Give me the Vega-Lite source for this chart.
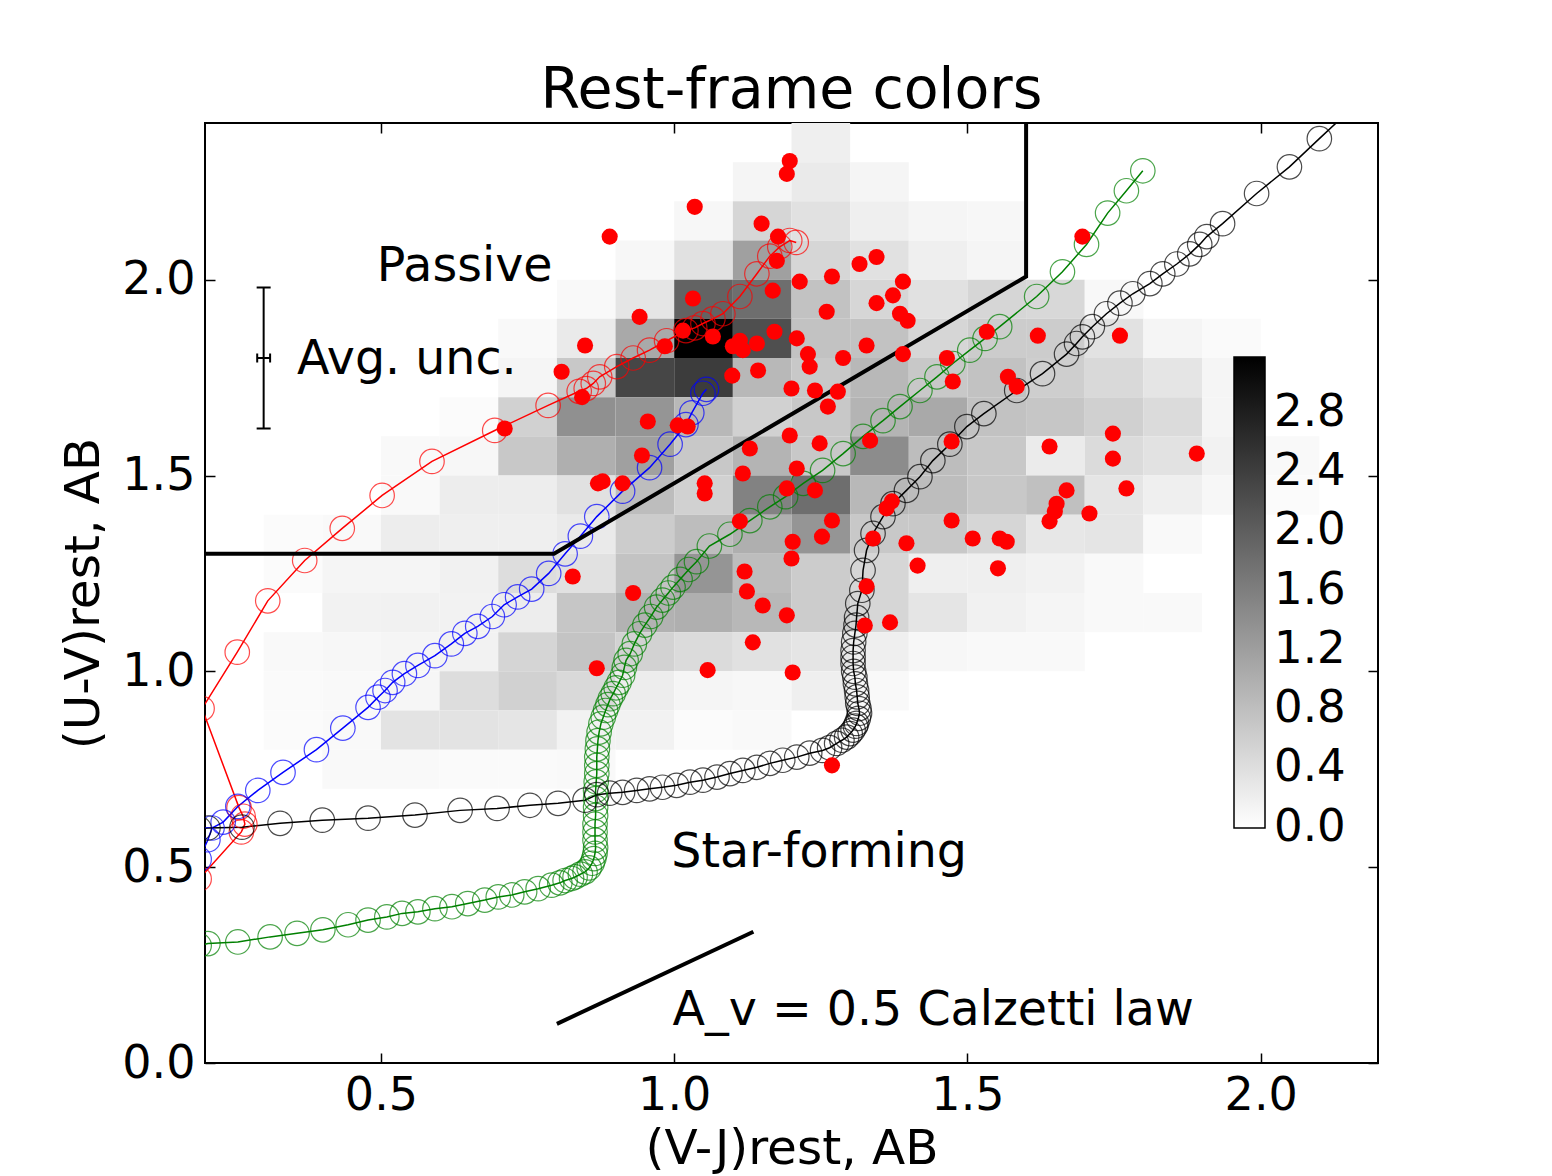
{
  "$schema": "https://vega.github.io/schema/vega-lite/v6.json",
  "width": 1173,
  "height": 940,
  "autosize": {"type": "none"},
  "padding": {"left": 205, "top": 123, "right": 174, "bottom": 113},
  "background": "white",
  "title": {"text": "Rest-frame colors", "fontSize": 57, "font": "DejaVu Sans", "fontWeight": "normal", "color": "black", "offset": -43, "baseline": "alphabetic"},
  "config": {
    "view": {"stroke": "black", "strokeWidth": 2},
    "font": "DejaVu Sans",
    "axis": {"labelFont": "DejaVu Sans", "labelFontSize": 46, "titleFont": "DejaVu Sans", "titleFontSize": 48.5, "titleFontWeight": "normal", "grid": false, "domain": false, "tickColor": "black", "tickSize": -10, "tickWidth": 1.5, "labelColor": "black", "titleColor": "black", "labelPadding": 20, "labelFlush": false, "labelOverlap": false}
  },
  "datasets": {
    "heat": [
      {"vj":1.2,"vj2":1.3,"uv":2.3,"uv2":2.4,"n":0.19},
      {"vj":1.1,"vj2":1.2,"uv":2.2,"uv2":2.3,"n":0.12},{"vj":1.2,"vj2":1.3,"uv":2.2,"uv2":2.3,"n":0.25},{"vj":1.3,"vj2":1.4,"uv":2.2,"uv2":2.3,"n":0.12},
      {"vj":1.0,"vj2":1.1,"uv":2.1,"uv2":2.2,"n":0.09},{"vj":1.1,"vj2":1.2,"uv":2.1,"uv2":2.2,"n":0.50},{"vj":1.2,"vj2":1.3,"uv":2.1,"uv2":2.2,"n":0.37},{"vj":1.3,"vj2":1.4,"uv":2.1,"uv2":2.2,"n":0.19},{"vj":1.4,"vj2":1.5,"uv":2.1,"uv2":2.2,"n":0.12},{"vj":1.5,"vj2":1.6,"uv":2.1,"uv2":2.2,"n":0.09},
      {"vj":0.9,"vj2":1.0,"uv":2.0,"uv2":2.1,"n":0.09},{"vj":1.0,"vj2":1.1,"uv":2.0,"uv2":2.1,"n":0.37},{"vj":1.1,"vj2":1.2,"uv":2.0,"uv2":2.1,"n":1.18},{"vj":1.2,"vj2":1.3,"uv":2.0,"uv2":2.1,"n":0.50},{"vj":1.3,"vj2":1.4,"uv":2.0,"uv2":2.1,"n":0.37},{"vj":1.4,"vj2":1.5,"uv":2.0,"uv2":2.1,"n":0.19},{"vj":1.5,"vj2":1.6,"uv":2.0,"uv2":2.1,"n":0.12},
      {"vj":0.8,"vj2":0.9,"uv":1.9,"uv2":2.0,"n":0.06},{"vj":0.9,"vj2":1.0,"uv":1.9,"uv2":2.0,"n":0.31},{"vj":1.0,"vj2":1.1,"uv":1.9,"uv2":2.0,"n":1.93},{"vj":1.1,"vj2":1.2,"uv":1.9,"uv2":2.0,"n":1.80},{"vj":1.2,"vj2":1.3,"uv":1.9,"uv2":2.0,"n":0.75},{"vj":1.3,"vj2":1.4,"uv":1.9,"uv2":2.0,"n":0.50},{"vj":1.4,"vj2":1.5,"uv":1.9,"uv2":2.0,"n":0.37},{"vj":1.5,"vj2":1.6,"uv":1.9,"uv2":2.0,"n":0.50},{"vj":1.6,"vj2":1.7,"uv":1.9,"uv2":2.0,"n":0.48},{"vj":1.7,"vj2":1.8,"uv":1.9,"uv2":2.0,"n":0.08},
      {"vj":0.7,"vj2":0.8,"uv":1.8,"uv2":1.9,"n":0.06},{"vj":0.8,"vj2":0.9,"uv":1.8,"uv2":1.9,"n":0.25},{"vj":0.9,"vj2":1.0,"uv":1.8,"uv2":1.9,"n":1.06},{"vj":1.0,"vj2":1.1,"uv":1.8,"uv2":1.9,"n":3.17},{"vj":1.1,"vj2":1.2,"uv":1.8,"uv2":1.9,"n":2.18},{"vj":1.2,"vj2":1.3,"uv":1.8,"uv2":1.9,"n":0.75},{"vj":1.3,"vj2":1.4,"uv":1.8,"uv2":1.9,"n":0.75},{"vj":1.4,"vj2":1.5,"uv":1.8,"uv2":1.9,"n":0.50},{"vj":1.5,"vj2":1.6,"uv":1.8,"uv2":1.9,"n":0.62},{"vj":1.6,"vj2":1.7,"uv":1.8,"uv2":1.9,"n":0.62},{"vj":1.7,"vj2":1.8,"uv":1.8,"uv2":1.9,"n":0.35},{"vj":1.8,"vj2":1.9,"uv":1.8,"uv2":1.9,"n":0.11},{"vj":1.9,"vj2":2.0,"uv":1.8,"uv2":1.9,"n":0.05},
      {"vj":0.7,"vj2":0.8,"uv":1.7,"uv2":1.8,"n":0.12},{"vj":0.8,"vj2":0.9,"uv":1.7,"uv2":1.8,"n":0.68},{"vj":0.9,"vj2":1.0,"uv":1.7,"uv2":1.8,"n":2.30},{"vj":1.0,"vj2":1.1,"uv":1.7,"uv2":1.8,"n":2.42},{"vj":1.1,"vj2":1.2,"uv":1.7,"uv2":1.8,"n":0.87},{"vj":1.2,"vj2":1.3,"uv":1.7,"uv2":1.8,"n":0.68},{"vj":1.3,"vj2":1.4,"uv":1.7,"uv2":1.8,"n":0.87},{"vj":1.4,"vj2":1.5,"uv":1.7,"uv2":1.8,"n":0.68},{"vj":1.5,"vj2":1.6,"uv":1.7,"uv2":1.8,"n":0.75},{"vj":1.6,"vj2":1.7,"uv":1.7,"uv2":1.8,"n":0.60},{"vj":1.7,"vj2":1.8,"uv":1.7,"uv2":1.8,"n":0.46},{"vj":1.8,"vj2":1.9,"uv":1.7,"uv2":1.8,"n":0.31},{"vj":1.9,"vj2":2.0,"uv":1.7,"uv2":1.8,"n":0.12},
      {"vj":0.6,"vj2":0.7,"uv":1.6,"uv2":1.7,"n":0.04},{"vj":0.7,"vj2":0.8,"uv":1.6,"uv2":1.7,"n":0.56},{"vj":0.8,"vj2":0.9,"uv":1.6,"uv2":1.7,"n":1.37},{"vj":0.9,"vj2":1.0,"uv":1.6,"uv2":1.7,"n":1.31},{"vj":1.0,"vj2":1.1,"uv":1.6,"uv2":1.7,"n":0.87},{"vj":1.1,"vj2":1.2,"uv":1.6,"uv2":1.7,"n":0.56},{"vj":1.2,"vj2":1.3,"uv":1.6,"uv2":1.7,"n":0.68},{"vj":1.3,"vj2":1.4,"uv":1.6,"uv2":1.7,"n":0.93},{"vj":1.4,"vj2":1.5,"uv":1.6,"uv2":1.7,"n":1.06},{"vj":1.5,"vj2":1.6,"uv":1.6,"uv2":1.7,"n":0.75},{"vj":1.6,"vj2":1.7,"uv":1.6,"uv2":1.7,"n":0.70},{"vj":1.7,"vj2":1.8,"uv":1.6,"uv2":1.7,"n":0.58},{"vj":1.8,"vj2":1.9,"uv":1.6,"uv2":1.7,"n":0.44},{"vj":1.9,"vj2":2.0,"uv":1.6,"uv2":1.7,"n":0.12},
      {"vj":0.5,"vj2":0.6,"uv":1.5,"uv2":1.6,"n":0.06},{"vj":0.6,"vj2":0.7,"uv":1.5,"uv2":1.6,"n":0.09},{"vj":0.7,"vj2":0.8,"uv":1.5,"uv2":1.6,"n":0.68},{"vj":0.8,"vj2":0.9,"uv":1.5,"uv2":1.6,"n":0.99},{"vj":0.9,"vj2":1.0,"uv":1.5,"uv2":1.6,"n":1.18},{"vj":1.0,"vj2":1.1,"uv":1.5,"uv2":1.6,"n":0.68},{"vj":1.1,"vj2":1.2,"uv":1.5,"uv2":1.6,"n":0.93},{"vj":1.2,"vj2":1.3,"uv":1.5,"uv2":1.6,"n":0.68},{"vj":1.3,"vj2":1.4,"uv":1.5,"uv2":1.6,"n":1.43},{"vj":1.4,"vj2":1.5,"uv":1.5,"uv2":1.6,"n":0.81},{"vj":1.5,"vj2":1.6,"uv":1.5,"uv2":1.6,"n":0.68},{"vj":1.6,"vj2":1.7,"uv":1.5,"uv2":1.6,"n":0.24},{"vj":1.7,"vj2":1.8,"uv":1.5,"uv2":1.6,"n":0.44},{"vj":1.8,"vj2":1.9,"uv":1.5,"uv2":1.6,"n":0.35},{"vj":1.9,"vj2":2.0,"uv":1.5,"uv2":1.6,"n":0.15},{"vj":2.0,"vj2":2.1,"uv":1.5,"uv2":1.6,"n":0.06},
      {"vj":0.5,"vj2":0.6,"uv":1.4,"uv2":1.5,"n":0.06},{"vj":0.6,"vj2":0.7,"uv":1.4,"uv2":1.5,"n":0.21},{"vj":0.7,"vj2":0.8,"uv":1.4,"uv2":1.5,"n":0.21},{"vj":0.8,"vj2":0.9,"uv":1.4,"uv2":1.5,"n":0.37},{"vj":0.9,"vj2":1.0,"uv":1.4,"uv2":1.5,"n":0.81},{"vj":1.0,"vj2":1.1,"uv":1.4,"uv2":1.5,"n":0.56},{"vj":1.1,"vj2":1.2,"uv":1.4,"uv2":1.5,"n":1.55},{"vj":1.2,"vj2":1.3,"uv":1.4,"uv2":1.5,"n":1.80},{"vj":1.3,"vj2":1.4,"uv":1.4,"uv2":1.5,"n":0.87},{"vj":1.4,"vj2":1.5,"uv":1.4,"uv2":1.5,"n":0.81},{"vj":1.5,"vj2":1.6,"uv":1.4,"uv2":1.5,"n":0.68},{"vj":1.6,"vj2":1.7,"uv":1.4,"uv2":1.5,"n":0.78},{"vj":1.7,"vj2":1.8,"uv":1.4,"uv2":1.5,"n":0.31},{"vj":1.8,"vj2":1.9,"uv":1.4,"uv2":1.5,"n":0.19},{"vj":1.9,"vj2":2.0,"uv":1.4,"uv2":1.5,"n":0.09},{"vj":2.0,"vj2":2.1,"uv":1.4,"uv2":1.5,"n":0.04},
      {"vj":0.3,"vj2":0.4,"uv":1.3,"uv2":1.4,"n":0.04},{"vj":0.4,"vj2":0.5,"uv":1.3,"uv2":1.4,"n":0.06},{"vj":0.5,"vj2":0.6,"uv":1.3,"uv2":1.4,"n":0.21},{"vj":0.6,"vj2":0.7,"uv":1.3,"uv2":1.4,"n":0.19},{"vj":0.7,"vj2":0.8,"uv":1.3,"uv2":1.4,"n":0.19},{"vj":0.8,"vj2":0.9,"uv":1.3,"uv2":1.4,"n":0.25},{"vj":0.9,"vj2":1.0,"uv":1.3,"uv2":1.4,"n":0.62},{"vj":1.0,"vj2":1.1,"uv":1.3,"uv2":1.4,"n":0.81},{"vj":1.1,"vj2":1.2,"uv":1.3,"uv2":1.4,"n":0.99},{"vj":1.2,"vj2":1.3,"uv":1.3,"uv2":1.4,"n":1.31},{"vj":1.3,"vj2":1.4,"uv":1.3,"uv2":1.4,"n":0.68},{"vj":1.4,"vj2":1.5,"uv":1.3,"uv2":1.4,"n":0.68},{"vj":1.5,"vj2":1.6,"uv":1.3,"uv2":1.4,"n":0.50},{"vj":1.6,"vj2":1.7,"uv":1.3,"uv2":1.4,"n":0.29},{"vj":1.7,"vj2":1.8,"uv":1.3,"uv2":1.4,"n":0.31},{"vj":1.8,"vj2":1.9,"uv":1.3,"uv2":1.4,"n":0.07},
      {"vj":0.3,"vj2":0.4,"uv":1.2,"uv2":1.3,"n":0.04},{"vj":0.4,"vj2":0.5,"uv":1.2,"uv2":1.3,"n":0.12},{"vj":0.5,"vj2":0.6,"uv":1.2,"uv2":1.3,"n":0.11},{"vj":0.6,"vj2":0.7,"uv":1.2,"uv2":1.3,"n":0.17},{"vj":0.7,"vj2":0.8,"uv":1.2,"uv2":1.3,"n":0.41},{"vj":0.8,"vj2":0.9,"uv":1.2,"uv2":1.3,"n":0.36},{"vj":0.9,"vj2":1.0,"uv":1.2,"uv2":1.3,"n":0.74},{"vj":1.0,"vj2":1.1,"uv":1.2,"uv2":1.3,"n":1.31},{"vj":1.1,"vj2":1.2,"uv":1.2,"uv2":1.3,"n":0.81},{"vj":1.2,"vj2":1.3,"uv":1.2,"uv2":1.3,"n":0.62},{"vj":1.3,"vj2":1.4,"uv":1.2,"uv2":1.3,"n":0.50},{"vj":1.4,"vj2":1.5,"uv":1.2,"uv2":1.3,"n":0.19},{"vj":1.5,"vj2":1.6,"uv":1.2,"uv2":1.3,"n":0.19},{"vj":1.6,"vj2":1.7,"uv":1.2,"uv2":1.3,"n":0.15},{"vj":1.7,"vj2":1.8,"uv":1.2,"uv2":1.3,"n":0.06},
      {"vj":0.4,"vj2":0.5,"uv":1.1,"uv2":1.2,"n":0.15},{"vj":0.5,"vj2":0.6,"uv":1.1,"uv2":1.2,"n":0.16},{"vj":0.6,"vj2":0.7,"uv":1.1,"uv2":1.2,"n":0.15},{"vj":0.7,"vj2":0.8,"uv":1.1,"uv2":1.2,"n":0.22},{"vj":0.8,"vj2":0.9,"uv":1.1,"uv2":1.2,"n":0.70},{"vj":0.9,"vj2":1.0,"uv":1.1,"uv2":1.2,"n":0.95},{"vj":1.0,"vj2":1.1,"uv":1.1,"uv2":1.2,"n":0.99},{"vj":1.1,"vj2":1.2,"uv":1.1,"uv2":1.2,"n":0.87},{"vj":1.2,"vj2":1.3,"uv":1.1,"uv2":1.2,"n":0.62},{"vj":1.3,"vj2":1.4,"uv":1.1,"uv2":1.2,"n":0.50},{"vj":1.4,"vj2":1.5,"uv":1.1,"uv2":1.2,"n":0.31},{"vj":1.5,"vj2":1.6,"uv":1.1,"uv2":1.2,"n":0.16},{"vj":1.6,"vj2":1.7,"uv":1.1,"uv2":1.2,"n":0.12},{"vj":1.7,"vj2":1.8,"uv":1.1,"uv2":1.2,"n":0.06},{"vj":1.8,"vj2":1.9,"uv":1.1,"uv2":1.2,"n":0.06},
      {"vj":0.3,"vj2":0.4,"uv":1.0,"uv2":1.1,"n":0.06},{"vj":0.4,"vj2":0.5,"uv":1.0,"uv2":1.1,"n":0.09},{"vj":0.5,"vj2":0.6,"uv":1.0,"uv2":1.1,"n":0.12},{"vj":0.6,"vj2":0.7,"uv":1.0,"uv2":1.1,"n":0.15},{"vj":0.7,"vj2":0.8,"uv":1.0,"uv2":1.1,"n":0.52},{"vj":0.8,"vj2":0.9,"uv":1.0,"uv2":1.1,"n":0.72},{"vj":0.9,"vj2":1.0,"uv":1.0,"uv2":1.1,"n":0.55},{"vj":1.0,"vj2":1.1,"uv":1.0,"uv2":1.1,"n":0.44},{"vj":1.1,"vj2":1.2,"uv":1.0,"uv2":1.1,"n":0.37},{"vj":1.2,"vj2":1.3,"uv":1.0,"uv2":1.1,"n":0.31},{"vj":1.3,"vj2":1.4,"uv":1.0,"uv2":1.1,"n":0.19},{"vj":1.4,"vj2":1.5,"uv":1.0,"uv2":1.1,"n":0.09},{"vj":1.5,"vj2":1.6,"uv":1.0,"uv2":1.1,"n":0.06},{"vj":1.6,"vj2":1.7,"uv":1.0,"uv2":1.1,"n":0.06},
      {"vj":0.3,"vj2":0.4,"uv":0.9,"uv2":1.0,"n":0.05},{"vj":0.4,"vj2":0.5,"uv":0.9,"uv2":1.0,"n":0.07},{"vj":0.5,"vj2":0.6,"uv":0.9,"uv2":1.0,"n":0.10},{"vj":0.6,"vj2":0.7,"uv":0.9,"uv2":1.0,"n":0.42},{"vj":0.7,"vj2":0.8,"uv":0.9,"uv2":1.0,"n":0.56},{"vj":0.8,"vj2":0.9,"uv":0.9,"uv2":1.0,"n":0.46},{"vj":0.9,"vj2":1.0,"uv":0.9,"uv2":1.0,"n":0.22},{"vj":1.0,"vj2":1.1,"uv":0.9,"uv2":1.0,"n":0.12},{"vj":1.1,"vj2":1.2,"uv":0.9,"uv2":1.0,"n":0.09},{"vj":1.2,"vj2":1.3,"uv":0.9,"uv2":1.0,"n":0.19},{"vj":1.3,"vj2":1.4,"uv":0.9,"uv2":1.0,"n":0.06},
      {"vj":0.3,"vj2":0.4,"uv":0.8,"uv2":0.9,"n":0.04},{"vj":0.4,"vj2":0.5,"uv":0.8,"uv2":0.9,"n":0.06},{"vj":0.5,"vj2":0.6,"uv":0.8,"uv2":0.9,"n":0.34},{"vj":0.6,"vj2":0.7,"uv":0.8,"uv2":0.9,"n":0.34},{"vj":0.7,"vj2":0.8,"uv":0.8,"uv2":0.9,"n":0.31},{"vj":0.8,"vj2":0.9,"uv":0.8,"uv2":0.9,"n":0.15},{"vj":0.9,"vj2":1.0,"uv":0.8,"uv2":0.9,"n":0.15},{"vj":1.0,"vj2":1.1,"uv":0.8,"uv2":0.9,"n":0.04},{"vj":1.1,"vj2":1.2,"uv":0.8,"uv2":0.9,"n":0.06},
      {"vj":0.4,"vj2":0.5,"uv":0.7,"uv2":0.8,"n":0.07},{"vj":0.5,"vj2":0.6,"uv":0.7,"uv2":0.8,"n":0.07},{"vj":0.6,"vj2":0.7,"uv":0.7,"uv2":0.8,"n":0.05},{"vj":0.7,"vj2":0.8,"uv":0.7,"uv2":0.8,"n":0.05},{"vj":0.8,"vj2":0.9,"uv":0.7,"uv2":0.8,"n":0.06}
    ],
    "tracks": [
      {"track":"red","i":0,"vj":0.19,"uv":0.47},{"track":"red","i":1,"vj":0.262,"uv":0.59},{"track":"red","i":2,"vj":0.268,"uv":0.61},{"track":"red","i":3,"vj":0.265,"uv":0.63},{"track":"red","i":4,"vj":0.258,"uv":0.652},{"track":"red","i":5,"vj":0.195,"uv":0.905},{"track":"red","i":6,"vj":0.255,"uv":1.049},{"track":"red","i":7,"vj":0.307,"uv":1.18},{"track":"red","i":8,"vj":0.37,"uv":1.283},{"track":"red","i":9,"vj":0.434,"uv":1.365},{"track":"red","i":10,"vj":0.502,"uv":1.449},{"track":"red","i":11,"vj":0.587,"uv":1.536},{"track":"red","i":12,"vj":0.694,"uv":1.615},{"track":"red","i":13,"vj":0.785,"uv":1.679},{"track":"red","i":14,"vj":0.838,"uv":1.715},{"track":"red","i":15,"vj":0.85,"uv":1.722},{"track":"red","i":16,"vj":0.862,"uv":1.735},{"track":"red","i":17,"vj":0.873,"uv":1.752},{"track":"red","i":18,"vj":0.902,"uv":1.778},{"track":"red","i":19,"vj":0.93,"uv":1.8},{"track":"red","i":20,"vj":0.958,"uv":1.82},{"track":"red","i":21,"vj":0.987,"uv":1.844},{"track":"red","i":22,"vj":1.02,"uv":1.87},{"track":"red","i":23,"vj":1.035,"uv":1.877},{"track":"red","i":24,"vj":1.049,"uv":1.888},{"track":"red","i":25,"vj":1.066,"uv":1.9},{"track":"red","i":26,"vj":1.083,"uv":1.913},{"track":"red","i":27,"vj":1.112,"uv":1.957},{"track":"red","i":28,"vj":1.141,"uv":2.015},{"track":"red","i":29,"vj":1.163,"uv":2.06},{"track":"red","i":30,"vj":1.18,"uv":2.084},{"track":"red","i":31,"vj":1.197,"uv":2.1},{"track":"red","i":32,"vj":1.208,"uv":2.095},
      {"track":"blue","i":0,"vj":0.19,"uv":0.52},{"track":"blue","i":1,"vj":0.205,"uv":0.57},{"track":"blue","i":2,"vj":0.212,"uv":0.6},{"track":"blue","i":3,"vj":0.231,"uv":0.615},{"track":"blue","i":4,"vj":0.256,"uv":0.655},{"track":"blue","i":5,"vj":0.29,"uv":0.696},{"track":"blue","i":6,"vj":0.333,"uv":0.742},{"track":"blue","i":7,"vj":0.39,"uv":0.8},{"track":"blue","i":8,"vj":0.435,"uv":0.855},{"track":"blue","i":9,"vj":0.478,"uv":0.908},{"track":"blue","i":10,"vj":0.495,"uv":0.934},{"track":"blue","i":11,"vj":0.507,"uv":0.951},{"track":"blue","i":12,"vj":0.52,"uv":0.972},{"track":"blue","i":13,"vj":0.54,"uv":0.994},{"track":"blue","i":14,"vj":0.563,"uv":1.015},{"track":"blue","i":15,"vj":0.592,"uv":1.04},{"track":"blue","i":16,"vj":0.62,"uv":1.07},{"track":"blue","i":17,"vj":0.643,"uv":1.097},{"track":"blue","i":18,"vj":0.665,"uv":1.115},{"track":"blue","i":19,"vj":0.69,"uv":1.14},{"track":"blue","i":20,"vj":0.71,"uv":1.17},{"track":"blue","i":21,"vj":0.733,"uv":1.19},{"track":"blue","i":22,"vj":0.757,"uv":1.21},{"track":"blue","i":23,"vj":0.786,"uv":1.25},{"track":"blue","i":24,"vj":0.814,"uv":1.3},{"track":"blue","i":25,"vj":0.84,"uv":1.345},{"track":"blue","i":26,"vj":0.868,"uv":1.395},{"track":"blue","i":27,"vj":0.912,"uv":1.46},{"track":"blue","i":28,"vj":0.958,"uv":1.52},{"track":"blue","i":29,"vj":0.993,"uv":1.58},{"track":"blue","i":30,"vj":1.02,"uv":1.63},{"track":"blue","i":31,"vj":1.03,"uv":1.66},{"track":"blue","i":32,"vj":1.049,"uv":1.71},{"track":"blue","i":33,"vj":1.055,"uv":1.72},
      {"track":"green","i":0,"vj":0.19,"uv":0.3},{"track":"green","i":1,"vj":0.205,"uv":0.305},{"track":"green","i":2,"vj":0.256,"uv":0.309},{"track":"green","i":3,"vj":0.311,"uv":0.322},{"track":"green","i":4,"vj":0.357,"uv":0.331},{"track":"green","i":5,"vj":0.401,"uv":0.34},{"track":"green","i":6,"vj":0.444,"uv":0.353},{"track":"green","i":7,"vj":0.478,"uv":0.365},{"track":"green","i":8,"vj":0.51,"uv":0.373},{"track":"green","i":9,"vj":0.536,"uv":0.382},{"track":"green","i":10,"vj":0.563,"uv":0.386},{"track":"green","i":11,"vj":0.592,"uv":0.394},{"track":"green","i":12,"vj":0.621,"uv":0.399},{"track":"green","i":13,"vj":0.648,"uv":0.407},{"track":"green","i":14,"vj":0.677,"uv":0.416},{"track":"green","i":15,"vj":0.7,"uv":0.424},{"track":"green","i":16,"vj":0.723,"uv":0.429},{"track":"green","i":17,"vj":0.745,"uv":0.437},{"track":"green","i":18,"vj":0.768,"uv":0.445},{"track":"green","i":19,"vj":0.791,"uv":0.454},{"track":"green","i":20,"vj":0.805,"uv":0.46},{"track":"green","i":21,"vj":0.814,"uv":0.466},{"track":"green","i":22,"vj":0.825,"uv":0.471},{"track":"green","i":23,"vj":0.831,"uv":0.475},{"track":"green","i":24,"vj":0.84,"uv":0.482},{"track":"green","i":25,"vj":0.848,"uv":0.488},{"track":"green","i":26,"vj":0.855,"uv":0.498},{"track":"green","i":27,"vj":0.86,"uv":0.51},{"track":"green","i":28,"vj":0.863,"uv":0.522},{"track":"green","i":29,"vj":0.865,"uv":0.535},{"track":"green","i":30,"vj":0.866,"uv":0.55},{"track":"green","i":31,"vj":0.865,"uv":0.569},{"track":"green","i":32,"vj":0.865,"uv":0.59},{"track":"green","i":33,"vj":0.865,"uv":0.61},{"track":"green","i":34,"vj":0.866,"uv":0.632},{"track":"green","i":35,"vj":0.866,"uv":0.653},{"track":"green","i":36,"vj":0.866,"uv":0.675},{"track":"green","i":37,"vj":0.866,"uv":0.696},{"track":"green","i":38,"vj":0.867,"uv":0.718},{"track":"green","i":39,"vj":0.868,"uv":0.739},{"track":"green","i":40,"vj":0.868,"uv":0.76},{"track":"green","i":41,"vj":0.868,"uv":0.781},{"track":"green","i":42,"vj":0.869,"uv":0.802},{"track":"green","i":43,"vj":0.87,"uv":0.823},{"track":"green","i":44,"vj":0.872,"uv":0.845},{"track":"green","i":45,"vj":0.875,"uv":0.866},{"track":"green","i":46,"vj":0.879,"uv":0.883},{"track":"green","i":47,"vj":0.883,"uv":0.9},{"track":"green","i":48,"vj":0.887,"uv":0.915},{"track":"green","i":49,"vj":0.891,"uv":0.93},{"track":"green","i":50,"vj":0.896,"uv":0.943},{"track":"green","i":51,"vj":0.901,"uv":0.958},{"track":"green","i":52,"vj":0.906,"uv":0.972},{"track":"green","i":53,"vj":0.912,"uv":0.99},{"track":"green","i":54,"vj":0.915,"uv":1.01},{"track":"green","i":55,"vj":0.918,"uv":1.028},{"track":"green","i":56,"vj":0.925,"uv":1.045},{"track":"green","i":57,"vj":0.932,"uv":1.07},{"track":"green","i":58,"vj":0.941,"uv":1.096},{"track":"green","i":59,"vj":0.95,"uv":1.118},{"track":"green","i":60,"vj":0.96,"uv":1.14},{"track":"green","i":61,"vj":0.97,"uv":1.164},{"track":"green","i":62,"vj":0.98,"uv":1.182},{"track":"green","i":63,"vj":0.99,"uv":1.2},{"track":"green","i":64,"vj":0.998,"uv":1.215},{"track":"green","i":65,"vj":1.01,"uv":1.235},{"track":"green","i":66,"vj":1.025,"uv":1.26},{"track":"green","i":67,"vj":1.038,"uv":1.28},{"track":"green","i":68,"vj":1.06,"uv":1.32},{"track":"green","i":69,"vj":1.095,"uv":1.35},{"track":"green","i":70,"vj":1.129,"uv":1.385},{"track":"green","i":71,"vj":1.163,"uv":1.42},{"track":"green","i":72,"vj":1.19,"uv":1.446},{"track":"green","i":73,"vj":1.22,"uv":1.48},{"track":"green","i":74,"vj":1.253,"uv":1.513},{"track":"green","i":75,"vj":1.288,"uv":1.556},{"track":"green","i":76,"vj":1.322,"uv":1.6},{"track":"green","i":77,"vj":1.356,"uv":1.64},{"track":"green","i":78,"vj":1.385,"uv":1.676},{"track":"green","i":79,"vj":1.419,"uv":1.717},{"track":"green","i":80,"vj":1.448,"uv":1.752},{"track":"green","i":81,"vj":1.475,"uv":1.786},{"track":"green","i":82,"vj":1.504,"uv":1.82},{"track":"green","i":83,"vj":1.53,"uv":1.85},{"track":"green","i":84,"vj":1.555,"uv":1.88},{"track":"green","i":85,"vj":1.618,"uv":1.957},{"track":"green","i":86,"vj":1.662,"uv":2.02},{"track":"green","i":87,"vj":1.703,"uv":2.09},{"track":"green","i":88,"vj":1.739,"uv":2.17},{"track":"green","i":89,"vj":1.771,"uv":2.227},{"track":"green","i":90,"vj":1.799,"uv":2.278},
      {"track":"black","i":0,"vj":0.19,"uv":0.598},{"track":"black","i":1,"vj":0.205,"uv":0.6},{"track":"black","i":2,"vj":0.263,"uv":0.602},{"track":"black","i":3,"vj":0.328,"uv":0.612},{"track":"black","i":4,"vj":0.4,"uv":0.62},{"track":"black","i":5,"vj":0.478,"uv":0.625},{"track":"black","i":6,"vj":0.558,"uv":0.633},{"track":"black","i":7,"vj":0.635,"uv":0.645},{"track":"black","i":8,"vj":0.698,"uv":0.65},{"track":"black","i":9,"vj":0.754,"uv":0.658},{"track":"black","i":10,"vj":0.802,"uv":0.663},{"track":"black","i":11,"vj":0.848,"uv":0.671},{"track":"black","i":12,"vj":0.868,"uv":0.685},{"track":"black","i":13,"vj":0.89,"uv":0.689},{"track":"black","i":14,"vj":0.912,"uv":0.691},{"track":"black","i":15,"vj":0.936,"uv":0.696},{"track":"black","i":16,"vj":0.958,"uv":0.7},{"track":"black","i":17,"vj":0.98,"uv":0.704},{"track":"black","i":18,"vj":1.004,"uv":0.709},{"track":"black","i":19,"vj":1.027,"uv":0.717},{"track":"black","i":20,"vj":1.049,"uv":0.722},{"track":"black","i":21,"vj":1.073,"uv":0.73},{"track":"black","i":22,"vj":1.095,"uv":0.739},{"track":"black","i":23,"vj":1.117,"uv":0.747},{"track":"black","i":24,"vj":1.141,"uv":0.755},{"track":"black","i":25,"vj":1.163,"uv":0.765},{"track":"black","i":26,"vj":1.185,"uv":0.773},{"track":"black","i":27,"vj":1.209,"uv":0.781},{"track":"black","i":28,"vj":1.231,"uv":0.791},{"track":"black","i":29,"vj":1.253,"uv":0.798},{"track":"black","i":30,"vj":1.265,"uv":0.805},{"track":"black","i":31,"vj":1.277,"uv":0.816},{"track":"black","i":32,"vj":1.286,"uv":0.824},{"track":"black","i":33,"vj":1.294,"uv":0.832},{"track":"black","i":34,"vj":1.3,"uv":0.841},{"track":"black","i":35,"vj":1.305,"uv":0.85},{"track":"black","i":36,"vj":1.309,"uv":0.86},{"track":"black","i":37,"vj":1.311,"uv":0.867},{"track":"black","i":38,"vj":1.314,"uv":0.88},{"track":"black","i":39,"vj":1.316,"uv":0.893},{"track":"black","i":40,"vj":1.315,"uv":0.905},{"track":"black","i":41,"vj":1.313,"uv":0.918},{"track":"black","i":42,"vj":1.312,"uv":0.935},{"track":"black","i":43,"vj":1.311,"uv":0.951},{"track":"black","i":44,"vj":1.309,"uv":0.968},{"track":"black","i":45,"vj":1.308,"uv":0.985},{"track":"black","i":46,"vj":1.306,"uv":1.0},{"track":"black","i":47,"vj":1.305,"uv":1.02},{"track":"black","i":48,"vj":1.305,"uv":1.036},{"track":"black","i":49,"vj":1.305,"uv":1.053},{"track":"black","i":50,"vj":1.306,"uv":1.075},{"track":"black","i":51,"vj":1.308,"uv":1.097},{"track":"black","i":52,"vj":1.31,"uv":1.118},{"track":"black","i":53,"vj":1.311,"uv":1.138},{"track":"black","i":54,"vj":1.313,"uv":1.173},{"track":"black","i":55,"vj":1.32,"uv":1.207},{"track":"black","i":56,"vj":1.322,"uv":1.258},{"track":"black","i":57,"vj":1.328,"uv":1.309},{"track":"black","i":58,"vj":1.339,"uv":1.352},{"track":"black","i":59,"vj":1.356,"uv":1.395},{"track":"black","i":60,"vj":1.373,"uv":1.428},{"track":"black","i":61,"vj":1.396,"uv":1.462},{"track":"black","i":62,"vj":1.419,"uv":1.497},{"track":"black","i":63,"vj":1.441,"uv":1.538},{"track":"black","i":64,"vj":1.47,"uv":1.58},{"track":"black","i":65,"vj":1.499,"uv":1.625},{"track":"black","i":66,"vj":1.528,"uv":1.658},{"track":"black","i":67,"vj":1.584,"uv":1.717},{"track":"black","i":68,"vj":1.628,"uv":1.76},{"track":"black","i":69,"vj":1.669,"uv":1.81},{"track":"black","i":70,"vj":1.686,"uv":1.837},{"track":"black","i":71,"vj":1.696,"uv":1.854},{"track":"black","i":72,"vj":1.713,"uv":1.88},{"track":"black","i":73,"vj":1.737,"uv":1.913},{"track":"black","i":74,"vj":1.76,"uv":1.94},{"track":"black","i":75,"vj":1.782,"uv":1.964},{"track":"black","i":76,"vj":1.811,"uv":1.99},{"track":"black","i":77,"vj":1.833,"uv":2.015},{"track":"black","i":78,"vj":1.857,"uv":2.04},{"track":"black","i":79,"vj":1.879,"uv":2.066},{"track":"black","i":80,"vj":1.896,"uv":2.09},{"track":"black","i":81,"vj":1.908,"uv":2.11},{"track":"black","i":82,"vj":1.935,"uv":2.143},{"track":"black","i":83,"vj":1.993,"uv":2.22},{"track":"black","i":84,"vj":2.049,"uv":2.288},{"track":"black","i":85,"vj":2.1,"uv":2.36},{"track":"black","i":86,"vj":2.15,"uv":2.43}
    ],
    "galaxies": [
      {"vj":0.848,"uv":1.832},{"vj":0.808,"uv":1.765},{"vj":0.843,"uv":1.70},{"vj":0.711,"uv":1.62},{"vj":0.87,"uv":1.48},{"vj":0.827,"uv":1.242},{"vj":1.197,"uv":2.303},{"vj":1.192,"uv":2.27},{"vj":1.035,"uv":2.186},{"vj":0.89,"uv":2.11},
      {"vj":1.149,"uv":2.143},{"vj":1.177,"uv":2.11},{"vj":1.175,"uv":2.048},{"vj":1.316,"uv":2.04},{"vj":1.345,"uv":2.058},{"vj":1.214,"uv":1.995},{"vj":1.269,"uv":2.008},{"vj":1.168,"uv":1.972},{"vj":1.032,"uv":1.952},{"vj":1.39,"uv":1.995},
      {"vj":1.373,"uv":1.96},{"vj":1.345,"uv":1.94},{"vj":1.385,"uv":1.913},{"vj":1.398,"uv":1.895},{"vj":1.26,"uv":1.918},{"vj":0.941,"uv":1.905},{"vj":1.015,"uv":1.87},{"vj":1.171,"uv":1.867},{"vj":1.209,"uv":1.85},{"vj":1.066,"uv":1.855},
      {"vj":1.112,"uv":1.844},{"vj":1.141,"uv":1.837},{"vj":1.1,"uv":1.83},{"vj":1.117,"uv":1.82},{"vj":0.984,"uv":1.83},{"vj":1.228,"uv":1.81},{"vj":1.231,"uv":1.778},{"vj":1.288,"uv":1.80},{"vj":1.328,"uv":1.832},{"vj":1.39,"uv":1.81},
      {"vj":1.465,"uv":1.80},{"vj":1.533,"uv":1.867},{"vj":1.099,"uv":1.755},{"vj":1.143,"uv":1.768},{"vj":1.2,"uv":1.722},{"vj":1.24,"uv":1.717},{"vj":1.279,"uv":1.714},{"vj":1.262,"uv":1.676},{"vj":1.475,"uv":1.74},{"vj":0.955,"uv":1.638},
      {"vj":1.006,"uv":1.628},{"vj":1.023,"uv":1.625},{"vj":0.945,"uv":1.551},{"vj":0.878,"uv":1.485},{"vj":0.912,"uv":1.48},{"vj":1.052,"uv":1.48},{"vj":1.052,"uv":1.454},{"vj":1.117,"uv":1.505},{"vj":1.129,"uv":1.569},{"vj":1.197,"uv":1.602},
      {"vj":1.248,"uv":1.582},{"vj":1.334,"uv":1.589},{"vj":1.209,"uv":1.518},{"vj":1.192,"uv":1.467},{"vj":1.24,"uv":1.462},{"vj":1.473,"uv":1.587},{"vj":1.371,"uv":1.434},{"vj":1.362,"uv":1.416},{"vj":1.112,"uv":1.383},{"vj":1.269,"uv":1.385},
      {"vj":1.252,"uv":1.344},{"vj":1.202,"uv":1.331},{"vj":1.339,"uv":1.339},{"vj":1.396,"uv":1.327},{"vj":1.415,"uv":1.27},{"vj":1.473,"uv":1.385},{"vj":1.509,"uv":1.339},{"vj":1.2,"uv":1.288},{"vj":1.12,"uv":1.255},{"vj":1.124,"uv":1.204},
      {"vj":0.93,"uv":1.2},{"vj":1.328,"uv":1.217},{"vj":1.151,"uv":1.168},{"vj":1.192,"uv":1.143},{"vj":1.134,"uv":1.074},{"vj":1.057,"uv":1.003},{"vj":1.202,"uv":0.997},{"vj":0.868,"uv":1.008},{"vj":1.325,"uv":1.117},{"vj":1.368,"uv":1.125},
      {"vj":1.269,"uv":0.76},{"vj":1.62,"uv":1.857},{"vj":1.76,"uv":1.857},{"vj":1.696,"uv":2.11},{"vj":1.569,"uv":1.752},{"vj":1.584,"uv":1.727},{"vj":1.748,"uv":1.607},{"vj":1.64,"uv":1.574},{"vj":1.748,"uv":1.543},{"vj":1.891,"uv":1.556},
      {"vj":1.669,"uv":1.462},{"vj":1.771,"uv":1.467},{"vj":1.652,"uv":1.428},{"vj":1.649,"uv":1.408},{"vj":1.64,"uv":1.383},{"vj":1.708,"uv":1.403},{"vj":1.555,"uv":1.339},{"vj":1.567,"uv":1.331},{"vj":1.552,"uv":1.263}
    ],
    "selection": [
      {"i":0,"vj":0.19,"uv":1.3},{"i":1,"vj":0.795,"uv":1.3},{"i":2,"vj":1.6,"uv":2.008},{"i":3,"vj":1.6,"uv":2.41}
    ],
    "calzetti": [
      {"i":0,"vj":0.8,"uv":0.1},{"i":1,"vj":1.135,"uv":0.335}
    ],
    "unc": [
      {"vj":0.3,"uv":1.8,"uvlo":1.62,"uvhi":1.98,"vjlo":0.289,"vjhi":0.311}
    ],
    "labels": [
      {"vj":0.493,"uv":1.997,"text":"Passive"},
      {"vj":0.357,"uv":1.76,"text":"Avg. unc."},
      {"vj":0.995,"uv":0.5,"text":"Star-forming"},
      {"vj":0.997,"uv":0.097,"text":"A_v = 0.5 Calzetti law"}
    ],
    "frame": [{"vj":1.0,"uv":1.0}]
  },
  "layer": [
    {
      "encoding": {
        "x": {"field": "vj", "type": "quantitative", "scale": {"domain": [0.2, 2.2], "nice": false, "zero": false}, "axis": {"values": [0.5, 1.0, 1.5, 2.0], "format": ".1f", "title": "(V-J)rest, AB", "titlePadding": 7}},
        "y": {"field": "uv", "type": "quantitative", "scale": {"domain": [0, 2.4], "nice": false, "zero": false}, "axis": {"values": [0, 0.5, 1.0, 1.5, 2.0], "format": ".1f", "title": "(U-V)rest, AB", "titlePadding": 13}}
      },
      "layer": [
        {
          "data": {"name": "heat"},
          "mark": {"type": "rect", "stroke": null},
          "encoding": {
            "x2": {"field": "vj2"},
            "y2": {"field": "uv2"},
            "fill": {"field": "n", "type": "quantitative", "scale": {"domain": [-0.01, 3.17], "range": ["#ffffff", "#000000"], "interpolate": "rgb"},
              "legend": {"orient": "none", "legendX": 1029, "legendY": 234, "direction": "vertical", "gradientLength": 471, "gradientThickness": 31, "title": null, "values": [0, 0.4, 0.8, 1.2, 1.6, 2.0, 2.4, 2.8], "format": ".1f", "labelFontSize": 45, "labelFont": "DejaVu Sans", "labelColor": "black", "labelOffset": 9, "gradientStrokeColor": "black", "gradientStrokeWidth": 1.5, "labelOverlap": false}}
          }
        },
        {
          "data": {"name": "tracks"},
          "mark": {"type": "line", "strokeWidth": 1.5, "clip": true},
          "encoding": {
            "stroke": {"field": "track", "type": "nominal", "scale": {"domain": ["red", "blue", "green", "black"], "range": ["#ff0000", "#0000ff", "#008000", "#000000"]}, "legend": null},
            "order": {"field": "i", "type": "quantitative"}
          }
        },
        {
          "data": {"name": "tracks"},
          "mark": {"type": "point", "shape": "circle", "filled": false, "size": 600, "strokeWidth": 1.2, "clip": true},
          "encoding": {
            "stroke": {"field": "track", "type": "nominal", "scale": {"domain": ["red", "blue", "green", "black"], "range": ["#ff0000", "#0000ff", "#008000", "#000000"]}, "legend": null}
          }
        },
        {
          "data": {"name": "selection"},
          "mark": {"type": "line", "color": "black", "strokeWidth": 4, "clip": true},
          "encoding": {"order": {"field": "i", "type": "quantitative"}}
        },
        {
          "data": {"name": "galaxies"},
          "mark": {"type": "point", "shape": "circle", "filled": true, "color": "#ff0000", "opacity": 1, "size": 260, "strokeWidth": 0}
        },
        {
          "data": {"name": "calzetti"},
          "mark": {"type": "line", "color": "black", "strokeWidth": 4},
          "encoding": {"order": {"field": "i", "type": "quantitative"}}
        },
        {
          "data": {"name": "unc"},
          "mark": {"type": "rule", "color": "black", "strokeWidth": 2},
          "encoding": {"y": {"field": "uvlo", "type": "quantitative"}, "y2": {"field": "uvhi"}}
        },
        {
          "data": {"name": "unc"},
          "mark": {"type": "rule", "color": "black", "strokeWidth": 2},
          "encoding": {"x": {"field": "vjlo", "type": "quantitative"}, "x2": {"field": "vjhi"}}
        },
        {
          "data": {"name": "unc"},
          "mark": {"type": "tick", "orient": "horizontal", "color": "black", "size": 14, "thickness": 2, "opacity": 1},
          "encoding": {"y": {"field": "uvlo", "type": "quantitative"}}
        },
        {
          "data": {"name": "unc"},
          "mark": {"type": "tick", "orient": "horizontal", "color": "black", "size": 14, "thickness": 2, "opacity": 1},
          "encoding": {"y": {"field": "uvhi", "type": "quantitative"}}
        },
        {
          "data": {"name": "unc"},
          "mark": {"type": "tick", "orient": "vertical", "color": "black", "size": 9, "thickness": 2, "opacity": 1},
          "encoding": {"x": {"field": "vjlo", "type": "quantitative"}}
        },
        {
          "data": {"name": "unc"},
          "mark": {"type": "tick", "orient": "vertical", "color": "black", "size": 9, "thickness": 2, "opacity": 1},
          "encoding": {"x": {"field": "vjhi", "type": "quantitative"}}
        },
        {
          "data": {"name": "labels"},
          "mark": {"type": "text", "align": "left", "baseline": "alphabetic", "fontSize": 47.5, "font": "DejaVu Sans", "color": "black"},
          "encoding": {"text": {"field": "text", "type": "nominal"}}
        }
      ]
    },
    {
      "data": {"name": "frame"},
      "mark": {"type": "point", "opacity": 0},
      "encoding": {
        "x": {"field": "vj", "type": "quantitative", "scale": {"domain": [0.2, 2.2], "nice": false, "zero": false}, "axis": {"orient": "top", "values": [0.5, 1.0, 1.5, 2.0], "labels": false, "title": null}},
        "y": {"field": "uv", "type": "quantitative", "scale": {"domain": [0, 2.4], "nice": false, "zero": false}, "axis": {"orient": "right", "values": [0, 0.5, 1.0, 1.5, 2.0], "labels": false, "title": null}}
      }
    }
  ],
  "resolve": {"axis": {"x": "independent", "y": "independent"}}
}
